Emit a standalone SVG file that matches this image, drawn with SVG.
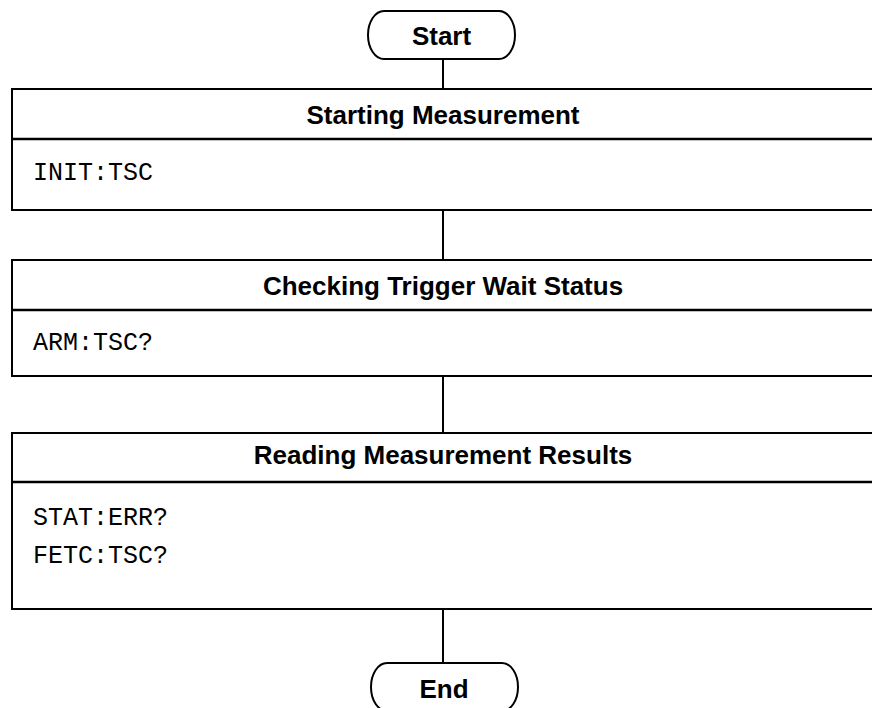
<svg xmlns="http://www.w3.org/2000/svg" width="872" height="708" viewBox="0 0 872 708">
<style>
.box{fill:#fff;stroke:#000;stroke-width:2}
.div{stroke:#000;stroke-width:2.5}
.term{fill:#fff;stroke:#000;stroke-width:2}
.conn{stroke:#000;stroke-width:2;fill:none}
.hd{font-family:"Liberation Sans",Arial,sans-serif;font-weight:bold;font-size:26px;text-anchor:middle;fill:#000}
.cmd{font-family:"Liberation Mono","Courier New",monospace;font-size:25px;fill:#000}
</style>
<rect width="872" height="708" fill="#fff"/>
<g id="connectors">
<line class="conn" x1="443" y1="59" x2="443" y2="89"/>
<line class="conn" x1="443" y1="210" x2="443" y2="260"/>
<line class="conn" x1="443" y1="376" x2="443" y2="433"/>
<line class="conn" x1="443" y1="609" x2="443" y2="663"/>
</g>
<g id="start">
<path class="term" d="M384 11 H499 A16 24 0 0 1 499 59 H384 A16 24 0 0 1 384 11 Z"/>
<text class="hd" x="441.5" y="45">Start</text>
</g>
<g id="starting-measurement">
<rect class="box" x="12" y="89" width="862" height="121"/>
<line class="div" x1="12" y1="139" x2="874" y2="139"/>
<text class="hd" x="443" y="124">Starting Measurement</text>
<text class="cmd" x="33" y="180">INIT:TSC</text>
</g>
<g id="checking-trigger">
<rect class="box" x="12" y="260" width="862" height="116"/>
<line class="div" x1="12" y1="310" x2="874" y2="310"/>
<text class="hd" x="443" y="295">Checking Trigger Wait Status</text>
<text class="cmd" x="33" y="350">ARM:TSC?</text>
</g>
<g id="reading-results">
<rect class="box" x="12" y="433" width="862" height="176"/>
<line class="div" x1="12" y1="482" x2="874" y2="482"/>
<text class="hd" x="443" y="464">Reading Measurement Results</text>
<text class="cmd" x="33" y="525">STAT:ERR?</text>
<text class="cmd" x="33" y="563">FETC:TSC?</text>
</g>
<g id="end">
<path class="term" d="M387 663 H502 A16 24 0 0 1 502 711 H387 A16 24 0 0 1 387 663 Z"/>
<text class="hd" x="444" y="698">End</text>
</g>
</svg>
